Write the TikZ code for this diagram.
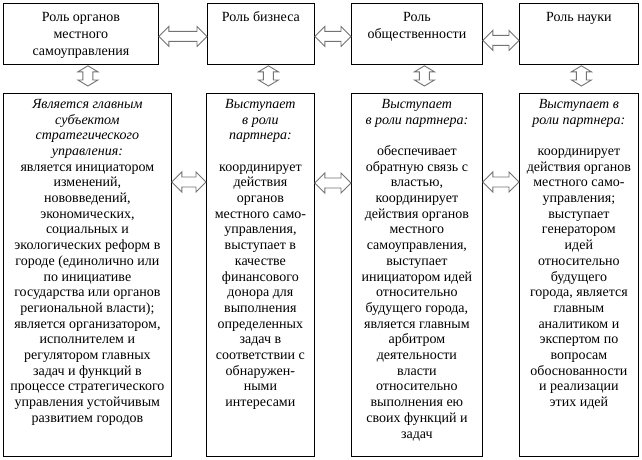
\documentclass[tikz,border=0pt]{standalone}
\usepackage{fontspec}
\setmainfont{Liberation Serif}
\usetikzlibrary{calc}
\tikzset{
  box/.style={draw, line width=0.8pt, inner sep=0pt, anchor=north west},
  topfont/.style={font=\fontsize{14}{17}\selectfont},
  botfont/.style={font=\fontsize{14}{15.7}\selectfont},
  dbl/.style={draw=black!55, fill=white, line width=0.9pt, line join=miter},
}
\newcommand{\cellbox}[4]{\parbox[c][#2][t]{#1}{\centering\vspace*{#3}\strut#4\par}}
\newcommand{\harrow}[2]{%
  \draw[dbl] (#1) -- ++(10,10) -- ++(0,-5) -- ($(#2)+(-10,5)$) -- ++(0,5) -- (#2)
    -- ++(-10,-10) -- ++(0,5) -- ($(#1)+(10,-5)$) -- ++(0,-5) -- cycle;}
\newcommand{\varrow}[2]{%
  \draw[dbl] (#1) -- ++(10,6) -- ++(-5,0) -- ($(#2)+(5,-6)$) -- ++(5,0) -- (#2)
    -- ++(-10,-6) -- ++(5,0) -- ($(#1)+(-5,6)$) -- ++(-5,0) -- cycle;}
\begin{document}
\begin{tikzpicture}[x=1pt, y=-1pt]
\useasboundingbox (0,0) rectangle (642,459);
% top row
\node[box, topfont] (T1) at (3,3) {\cellbox{155pt}{61pt}{6.5pt}{Роль органов\\местного\\самоуправления}};
\node[box, topfont] (T2) at (207,3) {\cellbox{107pt}{61pt}{6.5pt}{Роль бизнеса}};
\node[box, topfont] (T3) at (351,3) {\cellbox{131pt}{61pt}{6.5pt}{Роль\\общественности}};
\node[box, topfont] (T4) at (519,3) {\cellbox{119pt}{61pt}{6.5pt}{Роль науки}};
% bottom row
\node[box, botfont] (B1) at (3,93) {\cellbox{168pt}{363pt}{4pt}{{\itshape Является главным\\субъектом\\стратегического\\управления:}\\является инициатором\\изменений,\\нововведений,\\экономических,\\социальных и\\экологических реформ в\\городе (единолично или\\по инициативе\\государства или органов\\региональной власти);\\является организатором,\\исполнителем и\\регулятором главных\\задач и функций в\\процессе стратегического\\управления устойчивым\\развитием городов}};
\node[box, botfont] (B2) at (206,93) {\cellbox{108pt}{363pt}{4pt}{{\itshape Выступает\\в роли\\партнера:}\\\strut\\координирует\\действия\\органов\\местного само-\\управления,\\выступает в\\качестве\\финансового\\донора для\\выполнения\\определенных\\задач в\\соответствии с\\обнаружен-\\ными\\интересами}};
\node[box, botfont] (B3) at (351,93) {\cellbox{131pt}{363pt}{4pt}{{\itshape Выступает\\в роли партнера:}\\\strut\\обеспечивает\\обратную связь с\\властью,\\координирует\\действия органов\\местного\\самоуправления,\\выступает\\инициатором идей\\относительно\\будущего города,\\является главным\\арбитром\\деятельности\\власти\\относительно\\выполнения ею\\своих функций и\\задач}};
\node[box, botfont] (B4) at (519,93) {\cellbox{119pt}{363pt}{4pt}{{\itshape Выступает в\\роли партнера:}\\\strut\\координирует\\действия органов\\местного само-\\управления;\\выступает\\генератором\\идей\\относительно\\будущего\\города, является\\главным\\аналитиком и\\экспертом по\\вопросам\\обоснованности\\и реализации\\этих идей}};
% horizontal connectors, top row
\coordinate (h1a) at ($(T1.east)+(0,2.5)$);
\coordinate (h1b) at ($(T2.west)+(0,2.5)$);
\coordinate (h2a) at ($(T2.east)+(0,2.5)$);
\coordinate (h2b) at ($(T3.west)+(0,2.5)$);
\coordinate (h3a) at ($(T3.east)+(0,6.5)$);
\coordinate (h3b) at ($(T4.west)+(0,6.5)$);
\harrow{h1a}{h1b}
\harrow{h2a}{h2b}
\harrow{h3a}{h3b}
% horizontal connectors, bottom row
\coordinate (g1a) at ($(B1.north east)+(0,89)$);
\coordinate (g1b) at ($(B2.north west)+(0,89)$);
\coordinate (g2a) at ($(B2.north east)+(0,90)$);
\coordinate (g2b) at ($(B3.north west)+(0,90)$);
\coordinate (g3a) at ($(B3.north east)+(0,89)$);
\coordinate (g3b) at ($(B4.north west)+(0,89)$);
\harrow{g1a}{g1b}
\harrow{g2a}{g2b}
\harrow{g3a}{g3b}
% vertical connectors
\coordinate (v1a) at ($(T1.south)+(7,1)$);
\coordinate (v1b) at ($(v1a |- B1.north)+(0,-7)$);
\coordinate (v2a) at ($(T2.south)+(7.5,1)$);
\coordinate (v2b) at ($(v2a |- B2.north)+(0,-7)$);
\coordinate (v3a) at ($(T3.south)+(7.5,1)$);
\coordinate (v3b) at ($(v3a |- B3.north)+(0,-7)$);
\coordinate (v4a) at ($(T4.south)+(2.5,1)$);
\coordinate (v4b) at ($(v4a |- B4.north)+(0,-7)$);
\varrow{v1a}{v1b}
\varrow{v2a}{v2b}
\varrow{v3a}{v3b}
\varrow{v4a}{v4b}
\end{tikzpicture}
\end{document}
